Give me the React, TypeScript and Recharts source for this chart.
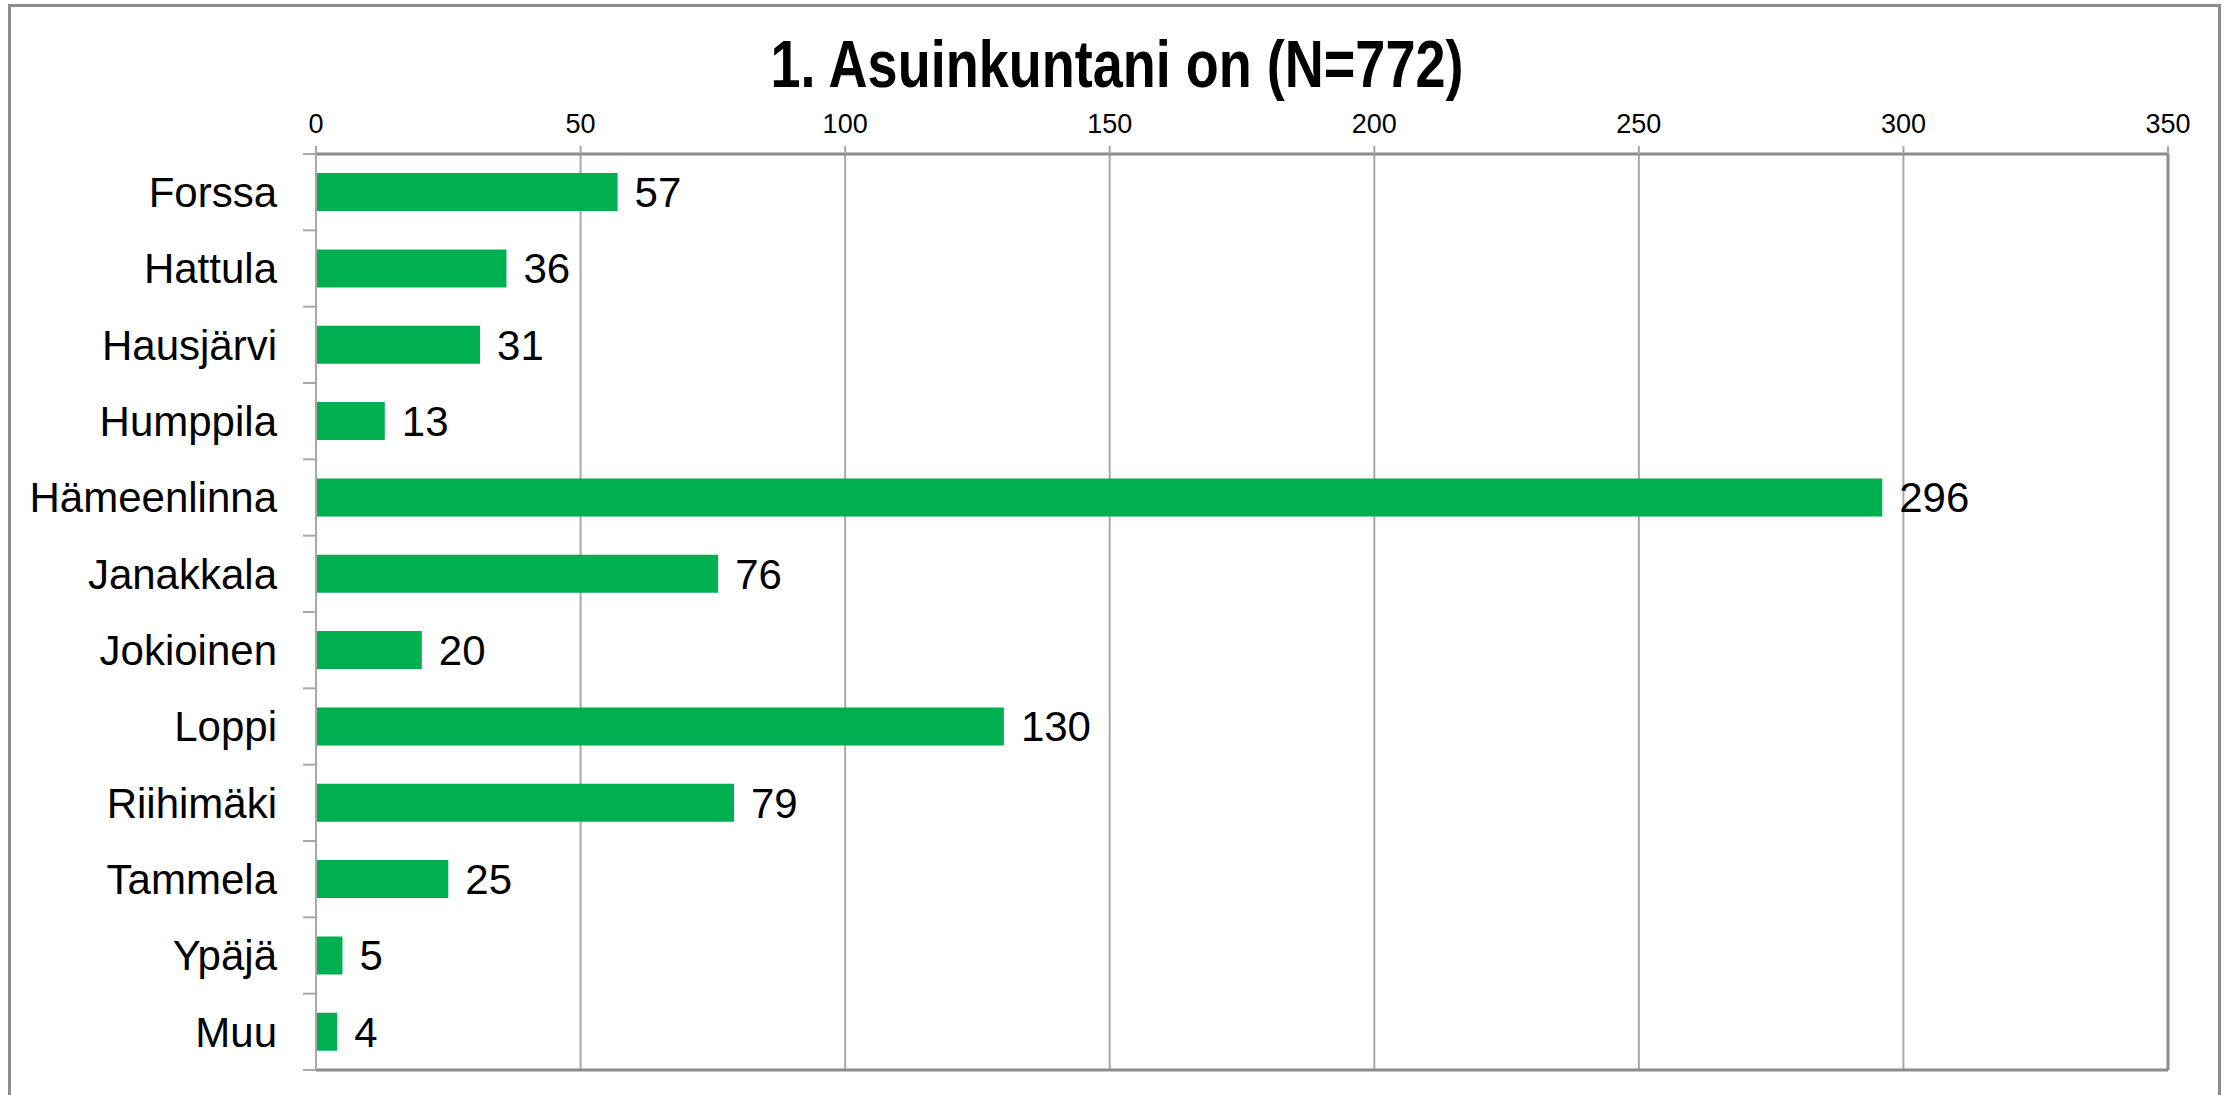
import { BarChart, Bar, XAxis, YAxis, CartesianGrid, LabelList } from "recharts";

const municipalities = [
  "Forssa",
  "Hattula",
  "Hausjärvi",
  "Humppila",
  "Hämeenlinna",
  "Janakkala",
  "Jokioinen",
  "Loppi",
  "Riihimäki",
  "Tammela",
  "Ypäjä",
  "Muu",
];
const counts = [57, 36, 31, 13, 296, 76, 20, 130, 79, 25, 5, 4];
const xTicks = [0, 50, 100, 150, 200, 250, 300, 350];

const data = municipalities.map((name, i) => ({ name, count: counts[i] }));

const axisGray = "#8c8c8c";
const gridGray = "#a8a8a8";
const lastName = municipalities[municipalities.length - 1];

// category label plus the small tick marks at the band edges (Excel style)
function CategoryTick(props: any) {
  const { x, y, payload } = props;
  const half = payload?.offset ?? 0;
  const lineX1 = x + 26;
  const lineX2 = x + 39;
  return (
    <g>
      <line x1={lineX1} x2={lineX2} y1={y - half} y2={y - half} stroke={gridGray} strokeWidth={2} />
      {payload.value === lastName && (
        <line x1={lineX1} x2={lineX2} y1={y + half} y2={y + half} stroke={gridGray} strokeWidth={2} />
      )}
      <text x={x} y={y} dy="0.355em" textAnchor="end" fontSize={42} fill="#000">
        {payload.value}
      </text>
    </g>
  );
}

export default function App() {
  return (
    <div
      style={{
        position: "absolute",
        left: 0,
        top: 0,
        width: 2231,
        height: 1095,
        overflow: "hidden",
        background: "#fff",
        fontFamily: "'Liberation Sans', Arial, sans-serif",
      }}
    >
      <div
        style={{
          position: "absolute",
          left: 8,
          top: 4,
          width: 2213,
          height: 1200,
          boxSizing: "border-box",
          border: `3px solid ${axisGray}`,
        }}
      />
      <svg
        width={2231}
        height={120}
        style={{ position: "absolute", left: 0, top: 0 }}
      >
        <text
          x={1117}
          y={87}
          textAnchor="middle"
          fontSize={66}
          fontWeight="bold"
          textLength={693}
          lengthAdjust="spacingAndGlyphs"
          fill="#000"
        >
          1. Asuinkuntani on (N=772)
        </text>
      </svg>
      <div style={{ position: "absolute", left: 0, top: 0 }}>
        <BarChart
          width={2231}
          height={1095}
          data={data}
          layout="vertical"
          margin={{ top: 0, right: 63, bottom: 25, left: 0 }}
          barCategoryGap="25%"
        >
          <CartesianGrid
            horizontal={false}
            stroke={gridGray}
            strokeWidth={2}
            xAxisId="top"
            yAxisId="cat"
          />
          {/* darker frame on the right and bottom of the plot area */}
          <CartesianGrid
            xAxisId="top"
            yAxisId="cat"
            stroke={axisGray}
            strokeWidth={3}
            horizontalCoordinatesGenerator={({ offset }: any) => [offset.top + offset.height]}
            verticalCoordinatesGenerator={({ offset }: any) => [offset.left + offset.width]}
          />
          <XAxis
            xAxisId="top"
            orientation="top"
            type="number"
            domain={[0, 350]}
            ticks={xTicks}
            interval={0}
            height={154}
            tickSize={8}
            tickMargin={13}
            fontSize={27}
            tick={{ fontSize: 27, fill: "#000" }}
            axisLine={{ stroke: axisGray, strokeWidth: 3 }}
            tickLine={{ stroke: gridGray, strokeWidth: 2 }}
          />
          <YAxis
            yAxisId="cat"
            type="category"
            dataKey="name"
            width={316}
            interval={0}
            tickSize={0}
            tickMargin={39}
            tickLine={false}
            tick={<CategoryTick />}
            axisLine={{ stroke: gridGray, strokeWidth: 2 }}
          />
          <Bar
            xAxisId="top"
            yAxisId="cat"
            dataKey="count"
            fill="#00b050"
            isAnimationActive={false}
          >
            <LabelList
              dataKey="count"
              position="right"
              offset={17}
              fill="#000"
              fontSize={42}
            />
          </Bar>
        </BarChart>
      </div>
    </div>
  );
}
